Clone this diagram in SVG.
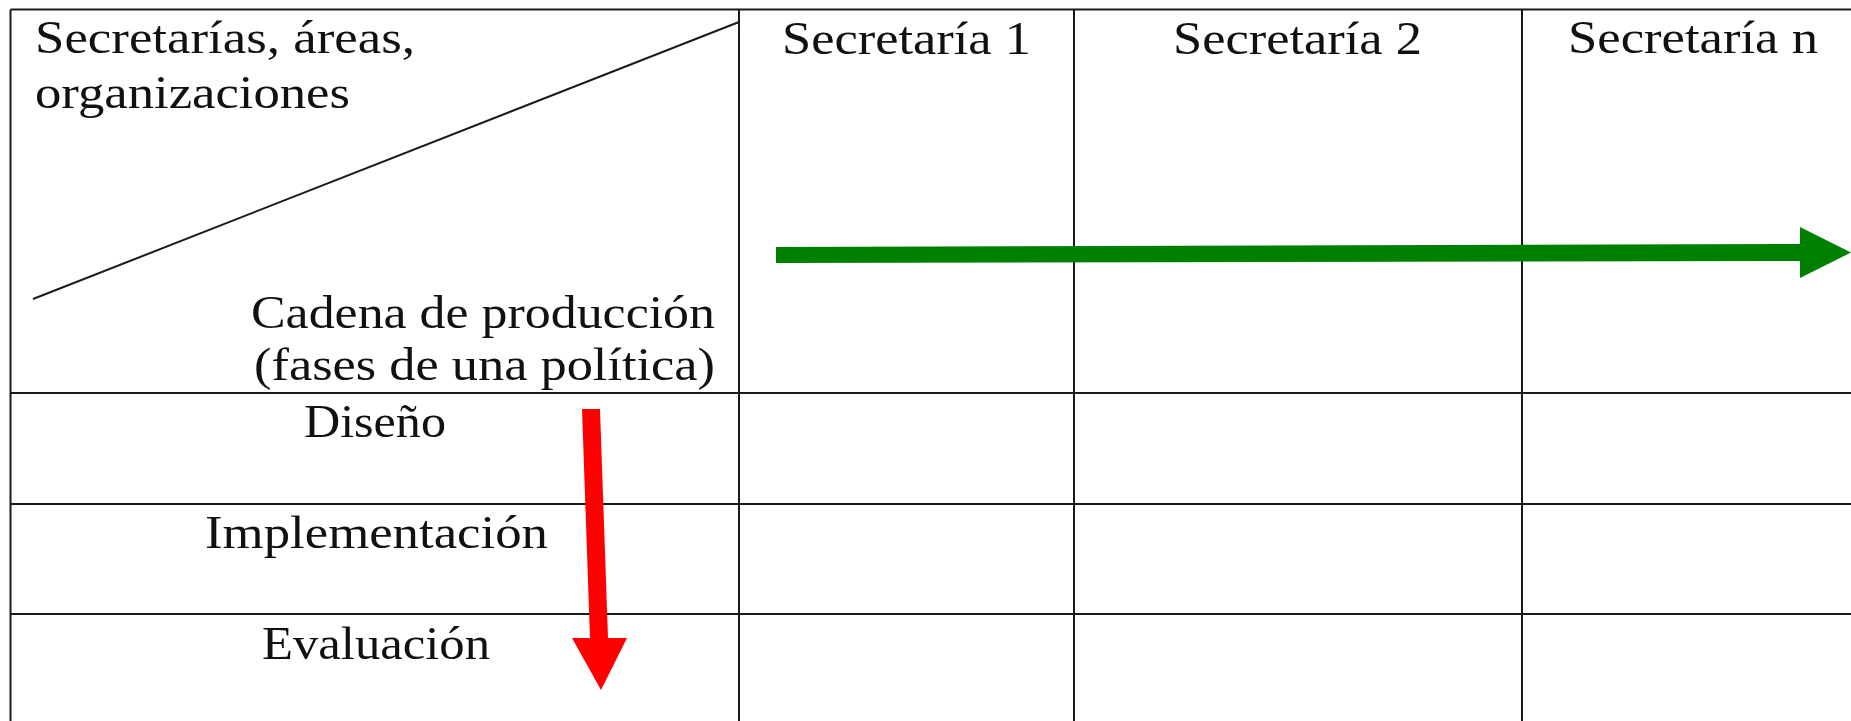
<svg xmlns="http://www.w3.org/2000/svg" width="1851" height="721" viewBox="0 0 1851 721">
<style>
.grid{stroke:#1a1a1a;stroke-width:2;fill:none}
.t{font-family:"Liberation Serif","Times New Roman",serif;font-size:46px;fill:#111}
</style>
<rect width="1851" height="721" fill="#ffffff"/>
<g id="table">
<line class="grid" x1="10.5" y1="9.5" x2="1851" y2="9.5"/>
<line class="grid" x1="10.5" y1="9.5" x2="10.5" y2="721"/>
<line class="grid" x1="739" y1="9.5" x2="739" y2="721"/>
<line class="grid" x1="1074" y1="9.5" x2="1074" y2="721"/>
<line class="grid" x1="1522" y1="9.5" x2="1522" y2="721"/>
<line class="grid" x1="10.5" y1="393" x2="1851" y2="393"/>
<line class="grid" x1="10.5" y1="504" x2="1851" y2="504"/>
<line class="grid" x1="10.5" y1="614" x2="1851" y2="614"/>
<line class="grid" x1="33" y1="299" x2="739" y2="22"/>
</g>
<g id="corner">
<text class="t" x="35" y="53" textLength="380" lengthAdjust="spacingAndGlyphs">Secretarías, áreas,</text>
<text class="t" x="35" y="108" textLength="315" lengthAdjust="spacingAndGlyphs">organizaciones</text>
<text class="t" x="251" y="328" textLength="464" lengthAdjust="spacingAndGlyphs">Cadena de producción</text>
<text class="t" x="254" y="380" textLength="461" lengthAdjust="spacingAndGlyphs">(fases de una política)</text>
</g>
<g id="sec1"><text class="t" x="782" y="54" textLength="249" lengthAdjust="spacingAndGlyphs">Secretaría 1</text></g>
<g id="sec2"><text class="t" x="1173" y="54" textLength="249" lengthAdjust="spacingAndGlyphs">Secretaría 2</text></g>
<g id="secn"><text class="t" x="1568" y="53" textLength="250" lengthAdjust="spacingAndGlyphs">Secretaría n</text></g>
<g id="diseno"><text class="t" x="304" y="437" textLength="142" lengthAdjust="spacingAndGlyphs">Diseño</text></g>
<g id="implementacion"><text class="t" x="205" y="548" textLength="343" lengthAdjust="spacingAndGlyphs">Implementación</text></g>
<g id="evaluacion"><text class="t" x="262" y="659" textLength="228" lengthAdjust="spacingAndGlyphs">Evaluación</text></g>
<g id="connectors">
<polygon fill="#008000" points="776,247 1800,244 1800,227 1851,252.5 1800,278 1800,261 776,263"/>
<polygon fill="#ff0000" points="582,409 600,409 608,638 627,638 601,690 572,638 590,638"/>
</g>
</svg>
